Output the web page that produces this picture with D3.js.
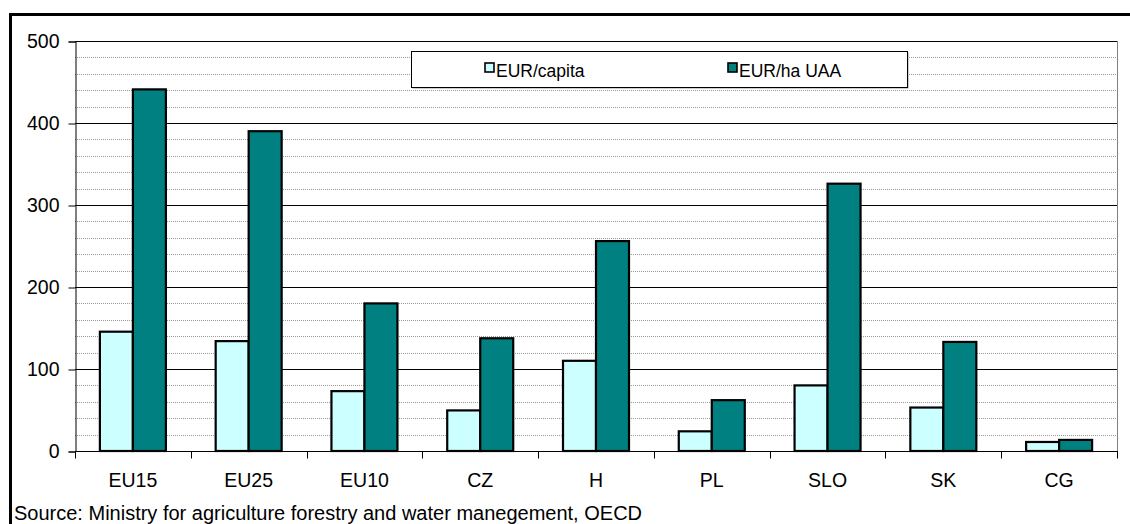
<!DOCTYPE html>
<html>
<head>
<meta charset="utf-8">
<script src="https://cdn.jsdelivr.net/npm/d3@7"></script>
<style>
  html, body { margin: 0; padding: 0; background: #fff; }
  svg { display: block; }
  text { font-family: Arial, "Liberation Sans", sans-serif; fill: #000; }
</style>
</head>
<body>
<svg id="chart" width="1130" height="524"></svg>
<script>
// Support per category: EUR per capita and EUR per hectare of utilised agricultural area
const categories = ["EU15", "EU25", "EU10", "CZ", "H", "PL", "SLO", "SK", "CG"];
const seriesNames = ["EUR/capita", "EUR/ha UAA"];
const eurPerCapita = [145.5, 134, 73, 49.5, 110, 24, 80, 53, 11];
const eurPerHa = [441, 390, 180, 137.5, 256, 62, 326, 133, 13.5];
const yTicks = [0, 100, 200, 300, 400, 500];
const sourceNote = "Source: Ministry for agriculture forestry and water manegement, OECD";

const seriesValues = [eurPerCapita, eurPerHa];
const seriesColors = ["#CCFFFF", "#008080"];

const svg = d3.select("#chart");
const plot = { left: 75, top: 41, right: 1117, bottom: 451 };

// outer frame (top and left edges)
svg.append("path")
  .attr("d", `M10.5,524 V14.5 H1130`)
  .attr("fill", "none").attr("stroke", "#000").attr("stroke-width", 3);

const y = d3.scaleLinear().domain([0, 500]).range([plot.bottom, plot.top]);
const x0 = d3.scaleBand().domain(categories).range([plot.left, plot.right]).padding(0);
const step = x0.bandwidth();
const x1 = d3.scaleBand().domain(seriesNames).range([step * 0.215, step * 0.785]).padding(0);

// minor gridlines every 20
const minor = d3.range(20, 500, 20).filter(v => v % 100 !== 0);
svg.append("g").selectAll("line").data(minor).join("line")
  .attr("x1", plot.left).attr("x2", plot.right)
  .attr("y1", d => Math.round(y(d)) + 0.5).attr("y2", d => Math.round(y(d)) + 0.5)
  .attr("stroke", "#9a9a9a").attr("stroke-width", 1).attr("stroke-dasharray", "1,1");

// major gridlines
svg.append("g").selectAll("line").data(yTicks.filter(v => v > 0)).join("line")
  .attr("x1", plot.left).attr("x2", plot.right)
  .attr("y1", d => Math.round(y(d)) + 0.5).attr("y2", d => Math.round(y(d)) + 0.5)
  .attr("stroke", "#000").attr("stroke-width", 1);

// right edge of plot area
svg.append("line")
  .attr("x1", plot.right + 0.5).attr("x2", plot.right + 0.5)
  .attr("y1", plot.top).attr("y2", plot.bottom)
  .attr("stroke", "#808080").attr("stroke-width", 1);

// bars
const groups = svg.append("g").selectAll("g").data(categories).join("g")
  .attr("transform", d => `translate(${x0(d)},0)`);
groups.selectAll("rect")
  .data((d, i) => seriesNames.map((s, k) => ({ s, k, v: seriesValues[k][i] })))
  .join("rect")
  .attr("x", d => x1(d.s))
  .attr("width", x1.bandwidth())
  .attr("y", d => y(d.v))
  .attr("height", d => y(0) - y(d.v))
  .attr("fill", d => seriesColors[d.k])
  .attr("stroke", "#000").attr("stroke-width", 2.2);

// y axis
const yAxis = svg.append("g")
  .attr("transform", `translate(${plot.left + 0.5},0.5)`)
  .call(d3.axisLeft(y).tickValues(yTicks).tickSize(7).tickPadding(9).tickFormat(d3.format("d")));
yAxis.select(".domain").attr("stroke", "#000");
yAxis.selectAll("text").style("font-size", "19.5px");

// x axis with ticks at category boundaries
const xAxis = svg.append("g").attr("transform", `translate(0,${Math.round(y(0)) + 0.5})`);
xAxis.append("line").attr("x1", plot.left).attr("x2", plot.right + 1).attr("stroke", "#000");
const bounds = categories.map(c => x0(c)).concat([plot.right]);
xAxis.selectAll("line.tick").data(bounds).join("line").attr("class", "tick")
  .attr("x1", d => Math.round(d) + 0.5).attr("x2", d => Math.round(d) + 0.5)
  .attr("y1", 0).attr("y2", 7).attr("stroke", "#000");
xAxis.selectAll("text").data(categories).join("text")
  .attr("x", d => x0(d) + step / 2).attr("y", 35)
  .attr("text-anchor", "middle").style("font-size", "19.5px")
  .text(d => d);

// legend
const legend = svg.append("g");
legend.append("rect").attr("x", 412.5).attr("y", 52.5).attr("width", 496).attr("height", 36)
  .attr("fill", "#a0a0a0");
legend.append("rect").attr("x", 411.5).attr("y", 51.5).attr("width", 496).attr("height", 36)
  .attr("fill", "#fff").attr("stroke", "#000").attr("stroke-width", 1);
const legendX = [485, 728];
seriesNames.forEach((s, k) => {
  legend.append("rect").attr("x", legendX[k]).attr("y", 63).attr("width", 9).attr("height", 9)
    .attr("fill", seriesColors[k]).attr("stroke", "#000").attr("stroke-width", 1.6);
  legend.append("text").attr("x", legendX[k] + 11).attr("y", 76.5)
    .style("font-size", "17.5px").text(s);
});

// source note
svg.append("text").attr("x", 14).attr("y", 520).style("font-size", "20px").text(sourceNote);
</script>
</body>
</html>
